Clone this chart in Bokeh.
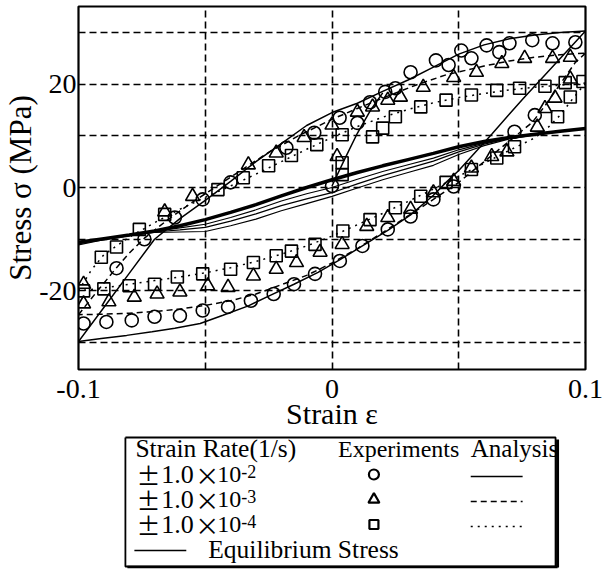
from bokeh.plotting import figure
from bokeh.layouts import column
from bokeh.models import Range1d, FixedTicker, CustomJSTickFormatter
from bokeh.core.properties import value
from bokeh.embed import file_html
from bokeh.resources import INLINE

SERIF = "Liberation Serif"

# ---------------- data ----------------
x_ticks = [-0.1, 0.0, 0.1]
y_ticks = [-20, 0, 20]
x_grid = [-0.05, 0.0, 0.05]
y_grid = [-30, -20, -10, 0, 10, 20, 30]

# analysis, strain rate 1e-2 (solid)
solid_up_strain = [-0.1, -0.09, -0.08, -0.07, -0.06, -0.05, -0.04, -0.03, -0.02, -0.01, 0.0, 0.01, 0.02, 0.03, 0.04, 0.05, 0.06, 0.07, 0.08, 0.09, 0.1]
solid_up_stress = [-29.8, -23.2, -16.6, -10.0, -6.0, -2.5, 1.2, 5.0, 8.5, 12.0, 14.5, 16.3, 18.6, 20.8, 23.3, 25.8, 27.6, 28.8, 29.5, 30.0, 30.3]
solid_dn_strain = [0.1, 0.094, 0.088, 0.075, 0.063, 0.05, 0.045, 0.04, 0.031, 0.022, 0.012, 0.003, -0.0055, -0.015, -0.025, -0.033, -0.043, -0.052, -0.062, -0.071, -0.081, -0.091, -0.1]
solid_dn_stress = [30.3, 27.1, 23.9, 17.0, 10.3, 3.3, 1.0, -1.5, -5.3, -8.3, -11.3, -14.0, -16.4, -18.7, -21.0, -22.9, -24.7, -26.3, -27.2, -27.9, -28.6, -29.2, -29.8]
solid_init_strain = [0.0, 0.005, 0.01, 0.015, 0.02]
solid_init_stress = [0.3, 5.5, 10.5, 14.8, 18.3]

# analysis, strain rate 1e-3 (dashed)
dash_up_strain = [-0.1, -0.095, -0.09, -0.085, -0.08, -0.074, -0.065, -0.055, -0.045, -0.035, -0.025, -0.0125, 0.0, 0.01, 0.02, 0.033, 0.045, 0.06, 0.07, 0.08, 0.09, 0.1]
dash_up_stress = [-24.6, -21.5, -18.5, -15.5, -12.7, -9.8, -6.3, -2.8, 0.4, 3.6, 6.8, 10.2, 13.2, 15.3, 17.3, 19.8, 21.8, 23.5, 24.5, 25.2, 25.7, 26.0]
dash_dn_strain = [0.1, 0.096, 0.09, 0.084, 0.079, 0.07, 0.06, 0.05, 0.04, 0.03, 0.02, 0.01, 0.0, -0.01, -0.02, -0.03, -0.04, -0.05, -0.06, -0.07, -0.08, -0.09, -0.1]
dash_dn_stress = [26.0, 24.2, 20.0, 15.8, 12.6, 9.0, 5.0, 1.0, -2.3, -5.5, -8.7, -11.8, -14.6, -17.0, -18.8, -20.6, -21.9, -22.8, -23.5, -24.0, -24.3, -24.5, -24.6]

# analysis, strain rate 1e-4 (dotted)
dot_up_strain = [-0.1, -0.095, -0.09, -0.08, -0.07, -0.06, -0.05, -0.04, -0.03, -0.02, -0.01, 0.0, 0.01, 0.02, 0.03, 0.04, 0.05, 0.06, 0.07, 0.08, 0.09, 0.1]
dot_up_stress = [-20.0, -16.0, -13.0, -9.6, -6.8, -4.2, -1.9, 0.3, 2.6, 5.0, 7.4, 9.7, 11.8, 13.6, 15.1, 16.4, 17.4, 18.2, 18.9, 19.4, 19.8, 20.2]
dot_dn_strain = [0.1, 0.095, 0.09, 0.085, 0.08, 0.07, 0.06, 0.05, 0.04, 0.03, 0.02, 0.01, 0.0, -0.01, -0.02, -0.03, -0.04, -0.05, -0.06, -0.07, -0.08, -0.09, -0.1]
dot_dn_stress = [20.2, 17.2, 14.0, 11.5, 9.6, 7.2, 4.7, 2.2, -0.3, -2.7, -5.0, -7.2, -9.4, -11.3, -12.9, -14.3, -15.5, -16.5, -17.3, -18.0, -18.7, -19.4, -20.0]

# equilibrium stress curves
eq_strain = [-0.1, -0.09, -0.08, -0.07, -0.06, -0.05, -0.04, -0.03, -0.02, -0.01, 0.0, 0.01, 0.02, 0.03, 0.04, 0.05, 0.06, 0.07, 0.08, 0.09, 0.1]
eq_main = [-10.6, -9.9, -9.2, -8.4, -7.4, -6.2, -4.8, -3.3, -1.6, 0.0, 1.5, 2.9, 4.2, 5.4, 6.6, 7.9, 8.9, 9.7, 10.3, 10.9, 11.4]
eq_b = [-10.7, -9.9, -9.2, -8.5, -7.8, -7.1, -5.8, -4.3, -2.6, -1.2, 0.0, 1.6, 3.1, 4.4, 5.7, 7.3, 8.6, 9.6, 10.3, 10.9, 11.4]
eq_c = [-10.9, -10.0, -9.3, -8.6, -8.2, -7.7, -6.5, -5.1, -3.5, -2.2, -1.0, 0.7, 2.3, 3.7, 5.1, 6.9, 8.4, 9.5, 10.3, 10.9, 11.4]
eq_d = [-11.1, -10.1, -9.3, -8.7, -8.6, -8.5, -7.4, -6.1, -4.5, -3.1, -1.7, -0.1, 1.5, 2.9, 4.3, 6.4, 8.1, 9.4, 10.2, 10.9, 11.4]

# experiments, 1e-2 (circles)
circ_strain = [-0.085, -0.074, -0.062, -0.051, -0.040, -0.018, -0.007, 0.003, 0.010, 0.015, 0.021, 0.025, 0.031, 0.041, 0.046, 0.051, 0.055, 0.061, 0.066, 0.070, 0.079, 0.087, 0.096,
               -0.098, -0.089, -0.079, -0.070, -0.060, -0.051, -0.041, -0.032, -0.023, -0.015, -0.0067, 0.0031, 0.012, 0.022, 0.031, 0.040, 0.048, 0.072, 0.080, 0.0]
circ_stress = [-15.6, -10.0, -5.8, -2.3, 1.0, 7.7, 10.6, 13.5, 12.5, 16.5, 18.5, 19.2, 22.3, 24.6, 23.7, 26.5, 25.0, 27.5, 26.2, 27.9, 28.5, 27.9, 28.1,
               -26.3, -26.0, -25.7, -25.0, -24.8, -23.8, -23.1, -21.9, -20.6, -18.7, -16.7, -14.2, -11.3, -8.1, -5.6, -2.3, 0.2, 10.8, 14.0, 0.3]

# experiments, 1e-3 (triangles)
tri_strain = [-0.098, -0.066, -0.055, -0.033, -0.022, -0.011, 0.0, 0.002, 0.010, 0.016, 0.022, 0.027, 0.036, 0.048, 0.057, 0.067, 0.076, 0.087, 0.094,
              -0.098, -0.088, -0.078, -0.069, -0.060, -0.049, -0.041, -0.031, -0.022, -0.014, -0.0047, 0.004, 0.0137, 0.022, 0.031, 0.040, 0.048, 0.055, 0.063, 0.069, 0.081, 0.084, 0.088, 0.094]
tri_stress = [-18.7, -4.7, -1.7, 4.4, 6.7, 9.7, 12.1, 6.0, 14.6, 15.6, 16.9, 17.5, 19.4, 21.3, 22.3, 24.0, 25.0, 25.0, 25.2,
              -22.5, -22.1, -21.2, -20.6, -20.2, -19.0, -19.3, -17.1, -15.8, -14.5, -12.5, -11.0, -7.5, -5.8, -4.2, -1.0, 1.2, 3.8, 6.0, 6.9, 11.7, 15.3, 17.3, 21.0]

# experiments, 1e-4 (squares)
sq_strain = [-0.091, -0.085, -0.076, -0.066, -0.045, -0.035, -0.025, -0.016, -0.006, 0.004, 0.004, 0.004, 0.016, 0.020, 0.025, 0.035, 0.045, 0.055, 0.065, 0.074, 0.084, 0.092, 0.099,
             -0.098, -0.090, -0.080, -0.070, -0.061, -0.051, -0.040, -0.031, -0.022, -0.016, -0.0067, 0.0043, 0.015, 0.025, 0.035, 0.045, 0.055, 0.065, 0.072, 0.089, 0.094]
sq_stress = [-13.5, -11.5, -8.1, -5.2, -0.4, 1.9, 4.2, 6.2, 8.3, 10.2, 4.8, 2.5, 9.8, 11.5, 13.7, 15.6, 16.9, 17.9, 18.8, 19.2, 19.6, 20.3, 20.5,
             -20.0, -19.6, -19.0, -18.7, -17.3, -16.7, -15.8, -14.5, -13.2, -12.3, -11.0, -8.4, -6.2, -3.9, -1.7, 1.0, 3.5, 5.7, 7.9, 13.7, 17.5]

# legend texts
legend_header = ["Strain Rate(1/s)", "Experiments", "Analysis"]
legend_exponents = ["-2", "-3", "-4"]
legend_equilibrium = "Equilibrium Stress"

# ---------------- main plot ----------------
p = figure(width=608, height=432, x_range=Range1d(-0.1, 0.1), y_range=Range1d(-35.2, 35.02),
           output_backend="svg", toolbar_location=None,
           min_border_left=77, min_border_right=23, min_border_top=6, min_border_bottom=62)
p.background_fill_color = "white"
p.border_fill_color = "white"
p.outline_line_color = "black"
p.outline_line_width = 2.2

p.xaxis.ticker = FixedTicker(ticks=x_ticks)
p.yaxis.ticker = FixedTicker(ticks=y_ticks)
p.xaxis.formatter = CustomJSTickFormatter(code="return Math.abs(tick) < 1e-9 ? '0' : tick.toFixed(1);")
p.yaxis.formatter = CustomJSTickFormatter(code="return Math.round(tick).toString();")
for ax in (p.xaxis, p.yaxis):
    ax.axis_line_color = None
    ax.major_tick_line_color = None
    ax.minor_tick_line_color = None
    ax.major_tick_out = 0
    ax.major_tick_in = 0
    ax.major_label_text_font = SERIF
    ax.major_label_text_font_size = "28px"
    ax.major_label_text_color = "black"
    ax.axis_label_text_font = SERIF
    ax.axis_label_text_font_style = "normal"
    ax.axis_label_text_color = "black"
p.xaxis.axis_label_text_font_size = "30px"
p.yaxis.axis_label_text_font_size = "31px"
p.xaxis.major_label_standoff = 10
p.yaxis.major_label_standoff = 2
p.xaxis.axis_label = "Strain ε"
p.yaxis.axis_label = "Stress σ (MPa)"
p.xaxis.axis_label_standoff = -4
p.yaxis.axis_label_standoff = -2

p.xgrid.ticker = FixedTicker(ticks=x_grid)
p.ygrid.ticker = FixedTicker(ticks=y_grid)
p.grid.grid_line_color = "black"
p.grid.grid_line_dash = "7 4"
p.grid.grid_line_width = 1.6

# equilibrium stress
for ys, w in ((eq_b, 1.2), (eq_c, 1.2), (eq_d, 1.2), (eq_main, 3.5)):
    p.line(eq_strain, ys, line_color="black", line_width=w)

# analysis
p.line(solid_up_strain, solid_up_stress, line_color="black", line_width=1.5)
p.line(solid_dn_strain, solid_dn_stress, line_color="black", line_width=1.5)
p.line(solid_init_strain, solid_init_stress, line_color="black", line_width=1.5)
p.line(dash_up_strain, dash_up_stress, line_color="black", line_width=1.5, line_dash="6 4")
p.line(dash_dn_strain, dash_dn_stress, line_color="black", line_width=1.5, line_dash="6 4")
p.line(dot_up_strain, dot_up_stress, line_color="black", line_width=1.5, line_dash="2 5")
p.line(dot_dn_strain, dot_dn_stress, line_color="black", line_width=1.5, line_dash="2 5")

# experiments
p.scatter(circ_strain, circ_stress, marker="circle", size=13, line_color="black", fill_color=None, line_width=1.6)
p.scatter(tri_strain, tri_stress, marker="triangle", size=14, line_color="black", fill_color=None, line_width=1.6)
p.scatter(sq_strain, sq_stress, marker="square", size=12, line_color="black", fill_color=None, line_width=1.6)

# ---------------- legend panel (page-pixel coordinates) ----------------
L = figure(width=608, height=138, x_range=Range1d(77, 585), y_range=Range1d(570, 432),
           output_backend="svg", toolbar_location=None, x_axis_type=None, y_axis_type=None,
           min_border_left=77, min_border_right=23, min_border_top=0, min_border_bottom=0)
L.grid.visible = False
L.background_fill_color = "white"
L.border_fill_color = "white"
L.outline_line_color = None

rows = [457, 483, 508, 533, 558]

def txt(x, baseline, s, size=25.5, font=SERIF):
    # the text glyph sits lower than its anchor by about a third of its size
    L.text(x=[x], y=[baseline - 0.36 * size], text=[s], text_font=value(font),
           text_font_size=value(f"{size}px"), text_color="black",
           text_align="left", text_baseline="alphabetic")

txt(134, rows[0], legend_header[0])
txt(337, rows[0], legend_header[1], size=24)
txt(470, rows[0], legend_header[2], size=25)
for r, sup in zip(rows[1:4], legend_exponents):
    txt(135, r, "±", size=24, font="Noto Sans CJK JP")
    txt(160, r, "1.0", size=26)
    txt(194, r, "×", size=24, font="Noto Sans CJK JP")
    txt(216, r, "10", size=24)
    txt(240, r - 6, sup, size=18)

L.scatter([373], [rows[1] - 9], marker="circle", size=10, line_color="black", fill_color=None, line_width=2.2)
L.scatter([373], [rows[2] - 9], marker="triangle", size=11, line_color="black", fill_color=None, line_width=2.2)
L.scatter([373], [rows[3] - 9], marker="square", size=9, line_color="black", fill_color=None, line_width=2.2)

L.line([470, 522], [rows[1] - 7, rows[1] - 7], line_color="black", line_width=1.6)
L.line([470, 522], [rows[2] - 7, rows[2] - 7], line_color="black", line_width=1.6, line_dash="6 4")
L.line([470, 522], [rows[3] - 7, rows[3] - 7], line_color="black", line_width=1.6, line_dash="2 5")
L.line([133, 185], [rows[4] - 8, rows[4] - 8], line_color="black", line_width=1.6)
txt(207, rows[4], legend_equilibrium)

# mask text overflowing the box, then draw the box with its shadow
L.quad(left=[556], right=[585], bottom=[570], top=[432], fill_color="white", line_color=None)
L.line([124, 555, 555, 124, 124], [437, 437, 566, 566, 437], line_color="black", line_width=1.8)
L.line([557, 557], [439, 567], line_color="black", line_width=3)
L.line([126, 557], [566.5, 566.5], line_color="black", line_width=2.5)

layout = column(p, L, spacing=0)
open("out.html", "w").write(file_html(layout, INLINE))
